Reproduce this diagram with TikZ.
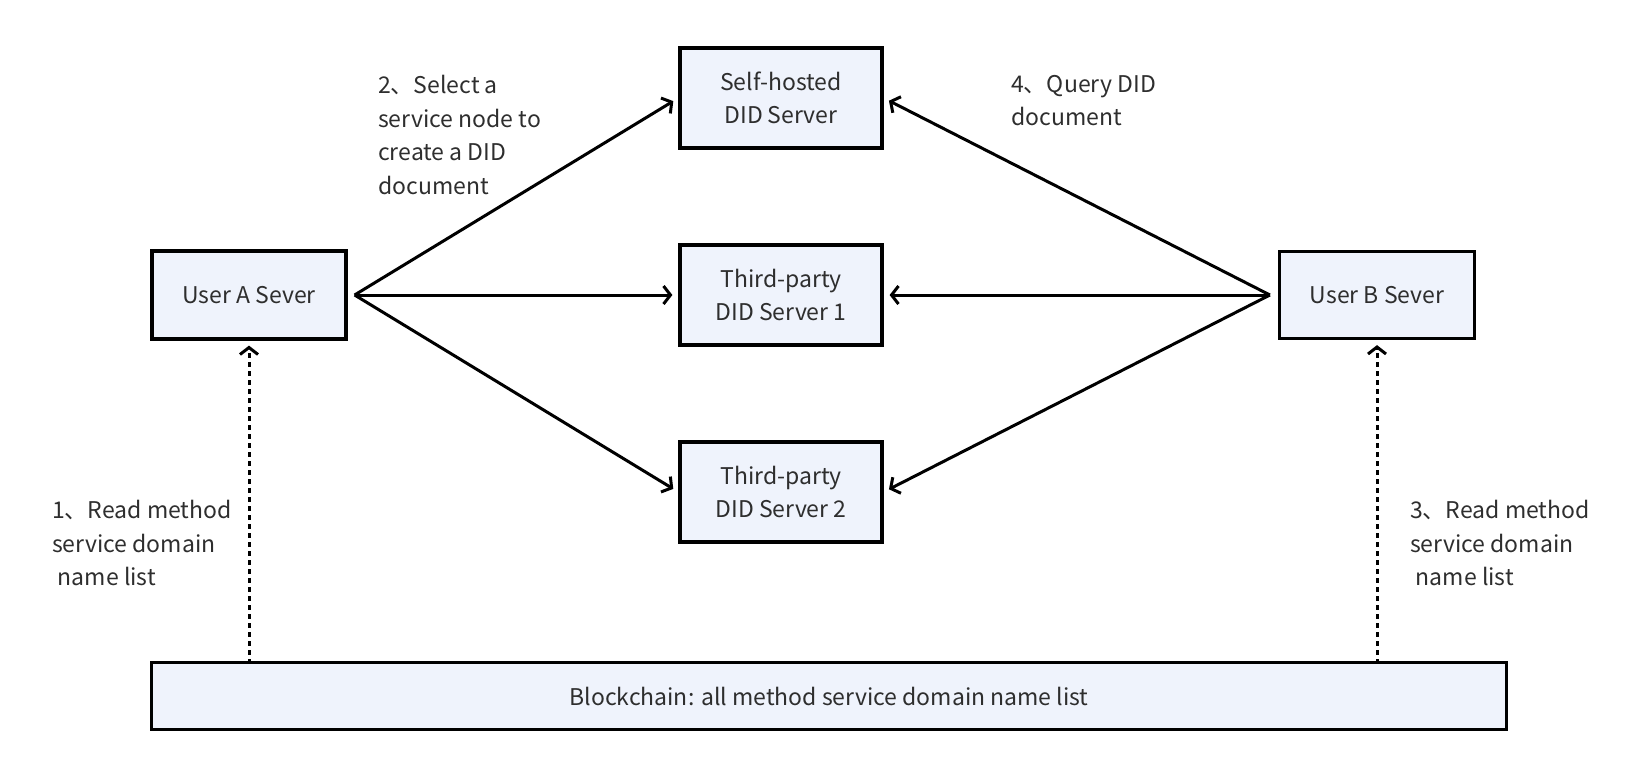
\documentclass[tikz,border=0pt]{standalone}
\usepackage{fontspec}
\setmainfont{Noto Sans CJK SC}
\usepackage{xcolor}
\usetikzlibrary{arrows.meta}
\definecolor{boxfill}{HTML}{EFF3FC}
\definecolor{txt}{HTML}{2E2E2E}
\tikzset{
  srv/.style={draw=black,line width=3.2pt,fill=boxfill,text=txt,align=center,inner sep=0pt},
  arr/.style={line width=3pt,-{Straight Barb[length=7pt,width=18pt,line width=3pt]},shorten >=6pt},
  rd/.style={line width=3pt,dash pattern=on 5pt off 4pt,-{Straight Barb[length=7pt,width=18pt,line width=3pt]},shorten >=5pt},
  lbl/.style={text=txt,align=left,anchor=north west,inner sep=0pt}
}

\begin{document}
\begin{tikzpicture}[x=1pt,y=-1pt,font=\fontsize{23}{33.5}\selectfont]
\useasboundingbox (0,0) rectangle (1646,780);
% servers
\node[srv,minimum width=194pt,minimum height=88pt] (ua) at (249,295) {User A Sever};
\node[srv,minimum width=195pt,minimum height=87pt] (ub) at (1377,295) {User B Sever};
\node[srv,minimum width=202pt,minimum height=100pt] (sh) at (781,98) {Self-hosted\\DID Server};
\node[srv,minimum width=202pt,minimum height=100pt] (tp1) at (781,295) {Third-party\\DID Server 1};
\node[srv,minimum width=202pt,minimum height=100pt] (tp2) at (781,492) {Third-party\\DID Server 2};
\node[srv,minimum width=1355pt,minimum height=67pt] (bc) at (829,696) {Blockchain: all method service domain name list};
% fan-out points
\coordinate (ao) at ([xshift=7pt]ua.east);
\coordinate (bo) at ([xshift=-8pt]ub.west);
\draw[arr] (ao) -- (sh.west); \draw[arr] (ao) -- (tp1.west); \draw[arr] (ao) -- (tp2.west);
\draw[arr] (bo) -- (sh.east); \draw[arr] (bo) -- (tp1.east); \draw[arr] (bo) -- (tp2.east);
% reading the chain
\draw[rd] ([yshift=-3pt]bc.north -| ua.south) -- (ua.south);
\draw[rd] ([yshift=-3pt]bc.north -| ub.south) -- (ub.south);
% step labels
\node[lbl] (l1) at (52,500) {1、Read method\\service domain\\\hspace{0.25em}name list};
\node[lbl] (l2) at (378,75) {2、Select a\\service node to\\create a DID\\document};
\node[lbl] (l3) at (1410,500) {3、Read method\\service domain\\\hspace{0.25em}name list};
\node[lbl] (l4) at (1011,75) {4、Query DID\\document};
\end{tikzpicture}
\end{document}
